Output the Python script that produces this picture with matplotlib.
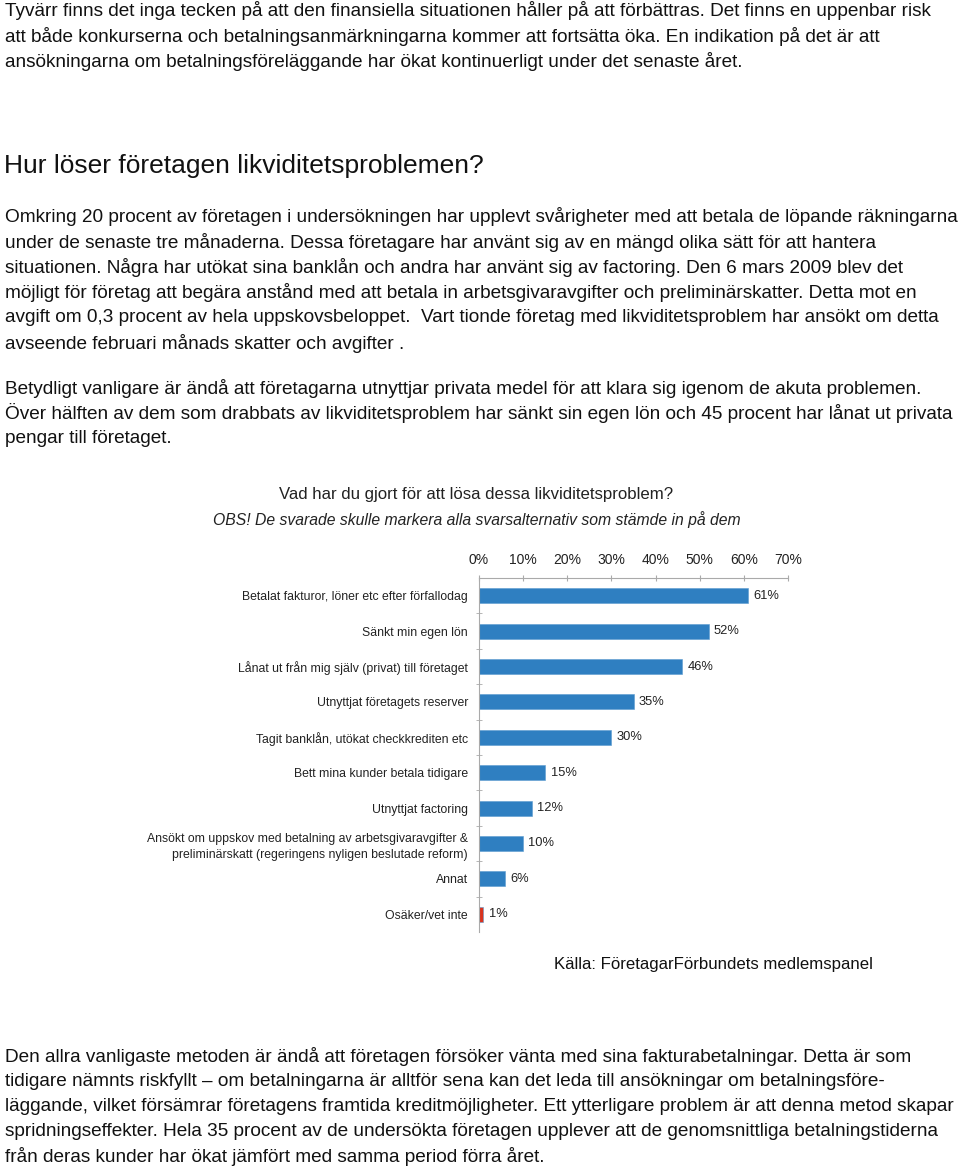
import matplotlib
matplotlib.use('Agg')
import matplotlib.pyplot as plt

W, H = 960, 1167

labels = ['Betalat fakturor, löner etc efter förfallodag',
          'Sänkt min egen lön',
          'Lånat ut från mig själv (privat) till företaget',
          'Utnyttjat företagets reserver',
          'Tagit banklån, utökat checkkrediten etc',
          'Bett mina kunder betala tidigare',
          'Utnyttjat factoring',
          'Ansökt om uppskov med betalning av arbetsgivaravgifter &\npreliminärskatt (regeringens nyligen beslutade reform)',
          'Annat',
          'Osäker/vet inte']
values = [61, 52, 46, 35, 30, 15, 12, 10, 6, 1]
xticks = [0, 10, 20, 30, 40, 50, 60, 70]

para1 = ["Tyvärr finns det inga tecken på att den finansiella situationen håller på att förbättras. Det finns en uppenbar risk",
         "att både konkurserna och betalningsanmärkningarna kommer att fortsätta öka. En indikation på det är att",
         "ansökningarna om betalningsföreläggande har ökat kontinuerligt under det senaste året."]
heading = "Hur löser företagen likviditetsproblemen?"
para2 = ["Omkring 20 procent av företagen i undersökningen har upplevt svårigheter med att betala de löpande räkningarna",
         "under de senaste tre månaderna. Dessa företagare har använt sig av en mängd olika sätt för att hantera",
         "situationen. Några har utökat sina banklån och andra har använt sig av factoring. Den 6 mars 2009 blev det",
         "möjligt för företag att begära anstånd med att betala in arbetsgivaravgifter och preliminärskatter. Detta mot en",
         "avgift om 0,3 procent av hela uppskovsbeloppet.  Vart tionde företag med likviditetsproblem har ansökt om detta",
         "avseende februari månads skatter och avgifter ."]
para3 = ["Betydligt vanligare är ändå att företagarna utnyttjar privata medel för att klara sig igenom de akuta problemen.",
         "Över hälften av dem som drabbats av likviditetsproblem har sänkt sin egen lön och 45 procent har lånat ut privata",
         "pengar till företaget."]
source = "Källa: FöretagarFörbundets medlemspanel"
para4 = ["Den allra vanligaste metoden är ändå att företagen försöker vänta med sina fakturabetalningar. Detta är som",
         "tidigare nämnts riskfyllt – om betalningarna är alltför sena kan det leda till ansökningar om betalningsföre-",
         "läggande, vilket försämrar företagens framtida kreditmöjligheter. Ett ytterligare problem är att denna metod skapar",
         "spridningseffekter. Hela 35 procent av de undersökta företagen upplever att de genomsnittliga betalningstiderna",
         "från deras kunder har ökat jämfört med samma period förra året."]

plt.rcParams['font.family'] = ['Liberation Sans', 'DejaVu Sans']

fig = plt.figure(figsize=(W / 100, H / 100), dpi=100)

def px(x, y):
    return x / W, 1 - y / H

def block(lines, y0, step=25.2, size=13.72):
    for i, line in enumerate(lines):
        fig.text(*px(5, y0 + i * step), line, fontsize=size, va='center', ha='left', color='#111111')

block(para1, 11)
fig.text(*px(4, 166), heading, fontsize=19, va='center', ha='left', color='#111111')
block(para2, 217)
block(para3, 388)
fig.text(*px(554, 965), source, fontsize=12.1, va='center', ha='left', color='#111111')
block(para4, 1056)

# chart title
fig.text(*px(476, 494), 'Vad har du gjort för att lösa dessa likviditetsproblem?',
         fontsize=12.1, ha='center', va='center', color='#222222')
fig.text(*px(477, 520), 'OBS! De svarade skulle markera alla svarsalternativ som stämde in på dem',
         fontsize=11.3, ha='center', va='center', style='italic', color='#222222')

# bar chart
x0, x1, y0, y1 = 479, 788, 578, 932
ax = fig.add_axes([x0 / W, 1 - y1 / H, (x1 - x0) / W, (y1 - y0) / H])
colors = ['#2f7fc1'] * (len(values) - 1) + ['#d8331f']
pos = list(range(len(values)))
ax.barh(pos, values, height=0.42, color=colors, edgecolor='#5b9bd0', linewidth=0.4)
for p, v in zip(pos, values):
    ax.text(v + 1.2, p, '%d%%' % v, va='center', ha='left', fontsize=9.3, color='#222222')

ax.set_xlim(0, 70)
ax.set_ylim(len(values) - 0.5, -0.5)
ax.xaxis.tick_top()
ax.set_xticks(xticks)
ax.set_xticklabels(['%d%%' % t for t in xticks], fontsize=10, color='#222222')
ax.tick_params(axis='x', direction='inout', length=4, color='#aaaaaa', pad=6)
ax.set_yticks(pos)
ax.set_yticklabels(labels, fontsize=8.8, color='#222222', linespacing=1.45)
ax.tick_params(axis='y', which='major', length=0, pad=8)
ax.set_yticks([p + 0.5 for p in pos[:-1]], minor=True)
ax.tick_params(axis='y', which='minor', direction='inout', length=4, color='#aaaaaa')
for s in ['right', 'bottom']:
    ax.spines[s].set_visible(False)
for s in ['top', 'left']:
    ax.spines[s].set_color('#aaaaaa')
    ax.spines[s].set_linewidth(0.8)

fig.savefig('out.png', dpi=100)
